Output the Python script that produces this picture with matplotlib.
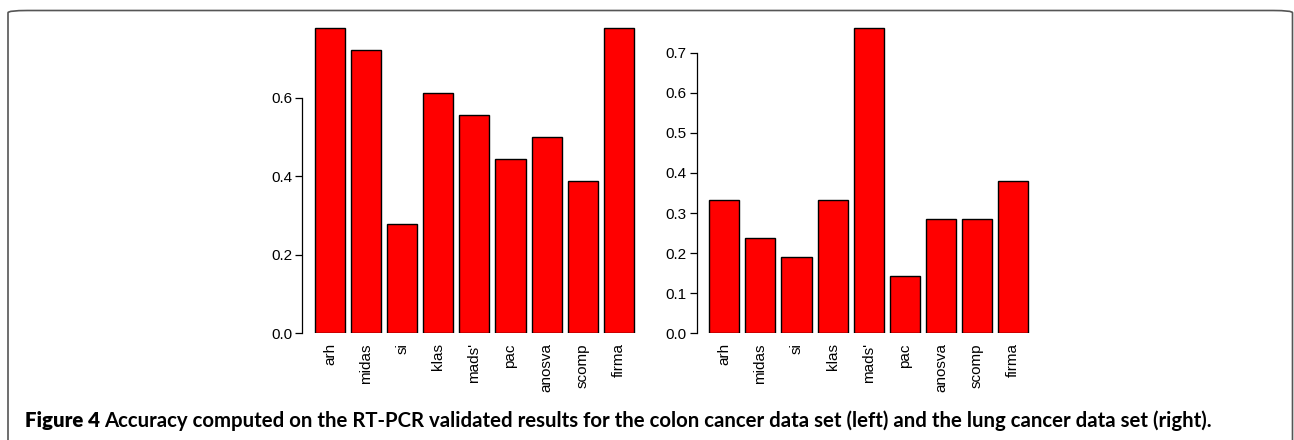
import numpy as np
import matplotlib
matplotlib.use("Agg")
import matplotlib.pyplot as plt
from matplotlib.patches import FancyBboxPatch

plt.rcParams['font.family'] = ['Liberation Sans', 'DejaVu Sans']

methods = ["arh", "midas", "si", "klas", "mads'", "pac", "anosva", "scomp", "firma"]
colon_acc = [0.778, 0.722, 0.278, 0.611, 0.556, 0.444, 0.500, 0.389, 0.778]
lung_acc = [0.333, 0.238, 0.190, 0.333, 0.762, 0.143, 0.286, 0.286, 0.381]
colon_ticks = [0.0, 0.2, 0.4, 0.6]
lung_ticks = [0.0, 0.1, 0.2, 0.3, 0.4, 0.5, 0.6, 0.7]
caption_head = "Figure 4"
caption_body = ("Accuracy computed on the RT-PCR validated results for the colon cancer data set (left) "
                "and the lung cancer data set (right).")

W, H = 1294, 440
fig = plt.figure(figsize=(W / 100, H / 100), dpi=100)

# rounded frame around the figure (bottom edge runs off the image)
frame = FancyBboxPatch((8 / W, -0.2), (W - 1.5) / W - 8 / W, (H - 10.5) / H + 0.2,
                       boxstyle="round,pad=0,rounding_size=0.015",
                       transform=fig.transFigure, fill=False,
                       edgecolor="#555555", linewidth=1.2, mutation_aspect=H / W)
fig.patches.append(frame)


def bar_panel(left_px, values, ticks, px_per_unit):
    # R-style barplot: width 1, space 0.2, 4% axis extension
    n = len(values)
    xl, xr = 0.2, n * 1.2
    ext = 0.04 * (xr - xl)
    xlim = (xl - ext, xr + ext)
    unit_px = 36.1 / 1.2
    width_px = (xlim[1] - xlim[0]) * unit_px
    base_px, top_px = 333.3, 20
    ax = fig.add_axes([left_px / W, (H - base_px) / H, width_px / W, (base_px - top_px) / H])
    centers = 0.7 + 1.2 * np.arange(n)
    ax.bar(centers, values, width=1.0, color="#ff0000", edgecolor="black", linewidth=1.0)
    ax.set_xlim(*xlim)
    ax.set_ylim(0, (base_px - top_px) / px_per_unit)
    ax.set_xticks(centers)
    ax.set_xticklabels(methods, rotation=90, fontsize=11)
    ax.tick_params(axis='x', length=0, pad=7)
    ax.set_yticks(ticks)
    ax.set_yticklabels(["%.1f" % t for t in ticks], fontsize=11)
    ax.tick_params(axis='y', length=5, width=0.9, pad=2)
    for s in ['top', 'right', 'bottom']:
        ax.spines[s].set_visible(False)
    ax.spines['left'].set_bounds(ticks[0], ticks[-1])
    ax.spines['left'].set_linewidth(0.9)
    ax.patch.set_alpha(0)
    return ax


bar_panel(302.2, colon_acc, colon_ticks, 392.5)
bar_panel(696.5, lung_acc, lung_ticks, 401.0)

# caption, scaled so that it spans the same width as in the original
cap_y = 1 - 427 / H
cap_x0, cap_x1 = 25, 1220
cap_font = ["Lato", "DejaVu Sans"]
renderer = fig.canvas.get_renderer()


def draw_caption(fs):
    t1 = fig.text(cap_x0 / W, cap_y, caption_head, fontsize=fs, fontweight="heavy",
                  family=cap_font, va="baseline")
    bb = t1.get_window_extent(renderer)
    t2 = fig.text((bb.x1 + fs * 0.3) / W, cap_y, caption_body, fontsize=fs,
                  fontweight="bold", family=cap_font, va="baseline")
    return t1, t2


fs = 14
t1, t2 = draw_caption(fs)
right = t2.get_window_extent(renderer).x1
t1.remove()
t2.remove()
fs = fs * (cap_x1 - cap_x0) / (right - cap_x0)
draw_caption(fs)

fig.savefig("out.png", dpi=100)
